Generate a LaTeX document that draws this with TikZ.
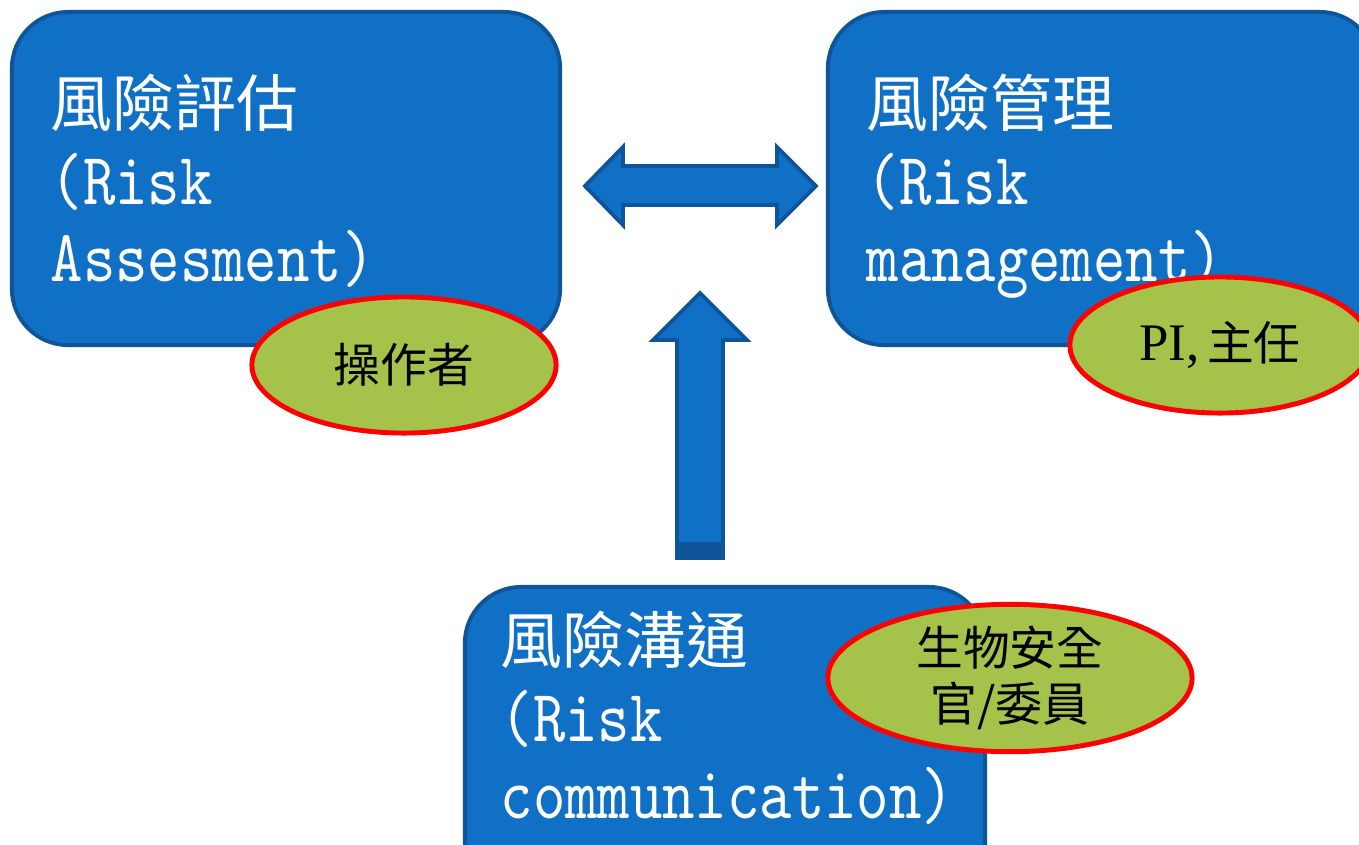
\documentclass[tikz,border=0pt]{standalone}
\usepackage{fontspec}
\usetikzlibrary{shapes.geometric}
\newfontfamily\cjk{Noto Sans CJK TC}
\newfontfamily\mono[FakeStretch=0.835]{lmmono10-regular.otf}
\newfontfamily\serifpi{Liberation Serif}
\definecolor{boxblue}{HTML}{1070C6}
\definecolor{edgeblue}{HTML}{0D5598}
\definecolor{ovalgreen}{HTML}{A5C34A}
\tikzset{
	riskbox/.style={draw=edgeblue, fill=boxblue, line width=1.1pt, rounded corners=16pt, inner sep=0},
	whoval/.style={ellipse, draw=red, fill=ovalgreen, line width=1.4pt, inner sep=0, align=center, font=\cjk\fontsize{13.3pt}{16pt}\selectfont},
	cjkline/.style={text=white, anchor=base west, inner sep=0, font=\cjk\fontsize{17.6pt}{20pt}\selectfont},
	monoline/.style={text=white, anchor=base west, inner sep=0, font=\mono\fontsize{21pt}{22pt}\selectfont},
	blockarrow/.style={draw=edgeblue, fill=boxblue, line width=1.1pt, line join=miter}
}
\begin{document}
\begin{tikzpicture}[x=0.01cm, y=-0.01cm]
	\useasboundingbox[fill=white] (0,0) rectangle (1359,844);
	\node[riskbox, minimum width=5.48cm, minimum height=3.33cm] (assess) at (286,178.5) {};
	\node[riskbox, minimum width=5.48cm, minimum height=3.33cm] (manage) at (1102,178.5) {};
	\node[riskbox, minimum width=5.20cm, minimum height=3.33cm] (commun) at (725,753.5) {};

	\draw[blockarrow] (585,186) -- (623,147) -- (623,166) -- (777,166) -- (777,147) -- (816,186)
		-- (777,225) -- (777,205) -- (623,205) -- (623,225) -- cycle;
	\draw[blockarrow] (700,293) -- (747,340) -- (723,340) -- (723,558) -- (677,558) -- (677,340)
		-- (653,340) -- cycle;
	\fill[edgeblue] (678,542) rectangle (722,558);

	\node[cjkline] (assess1) at (50,126) {風險評估};
	\node[monoline] (assess2) at (50,204) {(Risk};
	\node[monoline] (assess3) at (50,281) {Assesment)};
	\node[cjkline] (manage1) at (866,126) {風險管理};
	\node[monoline] (manage2) at (866,204) {(Risk};
	\node[monoline] (manage3) at (866,281) {management)};
	\node[cjkline] (commun1) at (500,663) {風險溝通};
	\node[monoline] (commun2) at (500,741) {(Risk};
	\node[monoline] (commun3) at (500,818) {communication)};

	\node[whoval, minimum width=3.04cm, minimum height=1.36cm] (operator) at (404,365) {操作者};
	\node[whoval, minimum width=3.00cm, minimum height=1.36cm] (pi) at (1220,345) {{\serifpi\fontsize{15pt}{16pt}\selectfont PI,}\,主任};
	\node[whoval, minimum width=3.64cm, minimum height=1.36cm] (bso) at (1010,678) {生物安全\\官/委員};
\end{tikzpicture}
\end{document}
